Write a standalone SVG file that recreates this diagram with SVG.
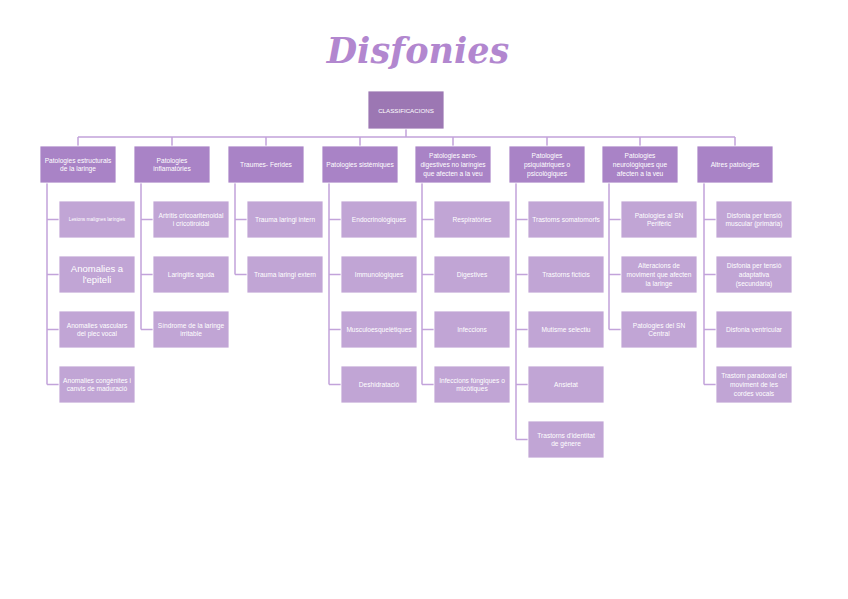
<svg xmlns="http://www.w3.org/2000/svg" width="848" height="599" viewBox="0 0 848 599">
<style>
.root{fill:#9c77b3;stroke:#ffffff;stroke-width:0.8}
.hdr{fill:#a983c6;stroke:#ffffff;stroke-width:0.8}
.ch{fill:#c1a5d5;stroke:#ffffff;stroke-width:0.8}
.t{font-family:"Liberation Sans","Open Sans",sans-serif;font-size:6.6px;fill:#ffffff;text-anchor:middle}
.big{font-size:9.5px}
.tiny{font-size:4.8px}
.ln{fill:none;stroke:#c2a3da;stroke-width:1.5}
.title{font-family:"DejaVu Serif","Liberation Serif",serif;font-style:italic;font-weight:bold;font-size:35px;fill:#b287cf;text-anchor:middle}
</style>
<rect width="848" height="599" fill="#ffffff"/>
<text class="title" x="418" y="63">Disfonies</text>

<g id="connectors">
<path class="ln" d="M406 129V137M78 137H735M78 137V146M172 137V146M266 137V146M360 137V146M453 137V146M547 137V146M640 137V146M735 137V146"/>
<path class="ln" d="M47 183V384.5M47 219.5H59M47 274.5H59M47 329.5H59M47 384.5H59"/>
<path class="ln" d="M141 183V329.5M141 219.5H153M141 274.5H153M141 329.5H153"/>
<path class="ln" d="M235 183V274.5M235 219.5H247M235 274.5H247"/>
<path class="ln" d="M329 183V384.5M329 219.5H341M329 274.5H341M329 329.5H341M329 384.5H341"/>
<path class="ln" d="M422 183V384.5M422 219.5H434M422 274.5H434M422 329.5H434M422 384.5H434"/>
<path class="ln" d="M516 183V439.5M516 219.5H528M516 274.5H528M516 329.5H528M516 384.5H528M516 439.5H528"/>
<path class="ln" d="M609 183V329.5M609 219.5H621M609 274.5H621M609 329.5H621"/>
<path class="ln" d="M704 183V384.5M704 219.5H716M704 274.5H716M704 329.5H716M704 384.5H716"/>
</g>

<g id="root"><rect class="root" x="368" y="91" width="76" height="38"/><text class="t" x="406" y="112.5" style="font-size:6.2px">CLASSIFICACIONS</text></g>

<g id="h1"><rect class="hdr" x="40" y="146" width="76" height="37"/><text class="t" x="78" y="162.7">Patologies estructurals<tspan x="78" dy="8.6">de la laringe</tspan></text></g>
<g id="h2"><rect class="hdr" x="134" y="146" width="76" height="37"/><text class="t" x="172" y="162.7">Patologies<tspan x="172" dy="8.6">inflamatòries</tspan></text></g>
<g id="h3"><rect class="hdr" x="228" y="146" width="76" height="37"/><text class="t" x="266" y="167">Traumes- Ferides</text></g>
<g id="h4"><rect class="hdr" x="322" y="146" width="76" height="37"/><text class="t" x="360" y="167">Patologies sistèmiques</text></g>
<g id="h5"><rect class="hdr" x="415" y="146" width="76" height="37"/><text class="t" x="453" y="158.4">Patologies aero-<tspan x="453" dy="8.6">digestives no laríngies</tspan><tspan x="453" dy="8.6">que afecten a la veu</tspan></text></g>
<g id="h6"><rect class="hdr" x="509" y="146" width="76" height="37"/><text class="t" x="547" y="158.4">Patologies<tspan x="547" dy="8.6">psiquiàtriques o</tspan><tspan x="547" dy="8.6">psicològiques</tspan></text></g>
<g id="h7"><rect class="hdr" x="602" y="146" width="76" height="37"/><text class="t" x="640" y="158.4">Patologies<tspan x="640" dy="8.6">neurològiques que</tspan><tspan x="640" dy="8.6">afecten a la veu</tspan></text></g>
<g id="h8"><rect class="hdr" x="697" y="146" width="76" height="37"/><text class="t" x="735" y="167">Altres patologies</text></g>

<g id="c1a"><rect class="ch" x="59" y="201" width="76" height="37"/><text class="t tiny" x="97" y="221.2">Lesions malignes laríngies</text></g>
<g id="c1b"><rect class="ch" x="59" y="256" width="76" height="37"/><text class="t big" x="97" y="272.3">Anomalies a<tspan x="97" dy="11">l'epiteli</tspan></text></g>
<g id="c1c"><rect class="ch" x="59" y="311" width="76" height="37"/><text class="t" x="97" y="327.7">Anomalies vasculars<tspan x="97" dy="8.6">del plec vocal</tspan></text></g>
<g id="c1d"><rect class="ch" x="59" y="366" width="76" height="37"/><text class="t" x="97" y="382.7">Anomalies congènites i<tspan x="97" dy="8.6">canvis de maduració</tspan></text></g>

<g id="c2a"><rect class="ch" x="153" y="201" width="76" height="37"/><text class="t" x="191" y="217.7">Artritis cricoaritenoidal<tspan x="191" dy="8.6">i cricotiroidal</tspan></text></g>
<g id="c2b"><rect class="ch" x="153" y="256" width="76" height="37"/><text class="t" x="191" y="277">Laringitis aguda</text></g>
<g id="c2c"><rect class="ch" x="153" y="311" width="76" height="37"/><text class="t" x="191" y="327.7">Síndrome de la laringe<tspan x="191" dy="8.6">irritable</tspan></text></g>

<g id="c3a"><rect class="ch" x="247" y="201" width="76" height="37"/><text class="t" x="285" y="222">Trauma laringi intern</text></g>
<g id="c3b"><rect class="ch" x="247" y="256" width="76" height="37"/><text class="t" x="285" y="277">Trauma laringi extern</text></g>

<g id="c4a"><rect class="ch" x="341" y="201" width="76" height="37"/><text class="t" x="379" y="222">Endocrinològiques</text></g>
<g id="c4b"><rect class="ch" x="341" y="256" width="76" height="37"/><text class="t" x="379" y="277">Immunològiques</text></g>
<g id="c4c"><rect class="ch" x="341" y="311" width="76" height="37"/><text class="t" x="379" y="332">Musculoesquelètiques</text></g>
<g id="c4d"><rect class="ch" x="341" y="366" width="76" height="37"/><text class="t" x="379" y="387">Deshidratació</text></g>

<g id="c5a"><rect class="ch" x="434" y="201" width="76" height="37"/><text class="t" x="472" y="222">Respiratòries</text></g>
<g id="c5b"><rect class="ch" x="434" y="256" width="76" height="37"/><text class="t" x="472" y="277">Digestives</text></g>
<g id="c5c"><rect class="ch" x="434" y="311" width="76" height="37"/><text class="t" x="472" y="332">Infeccions</text></g>
<g id="c5d"><rect class="ch" x="434" y="366" width="76" height="37"/><text class="t" x="472" y="382.7">Infeccions fúngiques o<tspan x="472" dy="8.6">micòtiques</tspan></text></g>

<g id="c6a"><rect class="ch" x="528" y="201" width="76" height="37"/><text class="t" x="566" y="222">Trastorns somatomorfs</text></g>
<g id="c6b"><rect class="ch" x="528" y="256" width="76" height="37"/><text class="t" x="566" y="277">Trastorns fictícis</text></g>
<g id="c6c"><rect class="ch" x="528" y="311" width="76" height="37"/><text class="t" x="566" y="332">Mutisme selectiu</text></g>
<g id="c6d"><rect class="ch" x="528" y="366" width="76" height="37"/><text class="t" x="566" y="387">Ansietat</text></g>
<g id="c6e"><rect class="ch" x="528" y="421" width="76" height="37"/><text class="t" x="566" y="437.7">Trastorns d'identitat<tspan x="566" dy="8.6">de gènere</tspan></text></g>

<g id="c7a"><rect class="ch" x="621" y="201" width="76" height="37"/><text class="t" x="659" y="217.7">Patologies al SN<tspan x="659" dy="8.6">Perifèric</tspan></text></g>
<g id="c7b"><rect class="ch" x="621" y="256" width="76" height="37"/><text class="t" x="659" y="268.4">Alteracions de<tspan x="659" dy="8.6">moviment que afecten</tspan><tspan x="659" dy="8.6">la laringe</tspan></text></g>
<g id="c7c"><rect class="ch" x="621" y="311" width="76" height="37"/><text class="t" x="659" y="327.7">Patologies del SN<tspan x="659" dy="8.6">Central</tspan></text></g>

<g id="c8a"><rect class="ch" x="716" y="201" width="76" height="37"/><text class="t" x="754" y="217.7">Disfonia per tensió<tspan x="754" dy="8.6">muscular (primària)</tspan></text></g>
<g id="c8b"><rect class="ch" x="716" y="256" width="76" height="37"/><text class="t" x="754" y="268.4">Disfonia per tensió<tspan x="754" dy="8.6">adaptativa</tspan><tspan x="754" dy="8.6">(secundària)</tspan></text></g>
<g id="c8c"><rect class="ch" x="716" y="311" width="76" height="37"/><text class="t" x="754" y="332">Disfonia ventricular</text></g>
<g id="c8d"><rect class="ch" x="716" y="366" width="76" height="37"/><text class="t" x="754" y="378.4">Trastorn paradoxal del<tspan x="754" dy="8.6">moviment de les</tspan><tspan x="754" dy="8.6">cordes vocals</tspan></text></g>
</svg>
